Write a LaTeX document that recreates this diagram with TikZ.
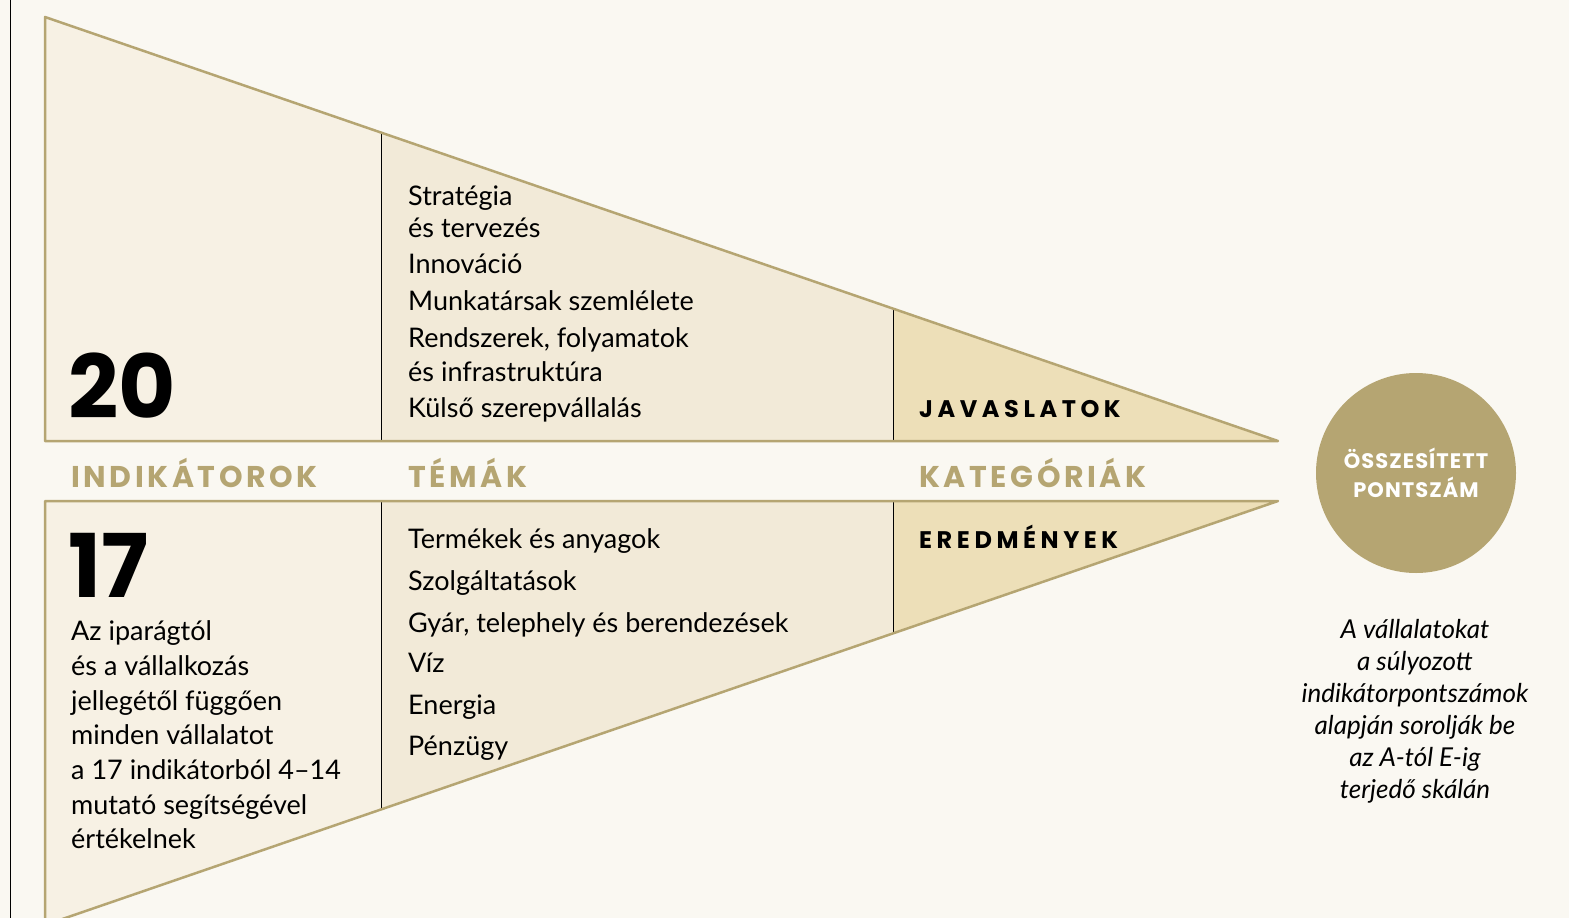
\documentclass[tikz,border=0pt]{standalone}
\usepackage{fontspec}
\setmainfont{Lato}
\newfontfamily\capsfont[LetterSpace=12]{Poppins}
\newfontfamily\widecapsfont[LetterSpace=19]{Poppins}
\newfontfamily\circlefont[LetterSpace=5]{Poppins}
\newfontfamily\numfont{Poppins}
\definecolor{bgcream}{HTML}{FAF8F2}
\definecolor{fillone}{HTML}{F7F1E4}
\definecolor{filltwo}{HTML}{F2EAD8}
\definecolor{fillthree}{HTML}{EDDFB8}
\definecolor{gold}{HTML}{B5A572}

\begin{document}
\begin{tikzpicture}[x=1pt,y=-1pt,
    body/.style={anchor=base west, inner sep=0pt, font=\fontsize{27}{27}\selectfont},
    bignum/.style={anchor=base west, inner sep=0pt, text height=62pt, text depth=0pt, font=\numfont\bfseries\fontsize{88}{88}\selectfont},
    goldcap/.style={anchor=base west, inner sep=0pt, text=gold, font=\capsfont\bfseries\fontsize{30}{30}\selectfont},
    blackcap/.style={anchor=base west, inner sep=0pt, font=\widecapsfont\bfseries\fontsize{24}{24}\selectfont},
    edge/.style={draw=gold, line width=2.5pt, line join=round},
    note/.style={align=center, inner sep=0pt, font=\itshape\fontsize{26}{32}\selectfont}]
    \fill[bgcream] (0,0) rectangle (1569,918);
    \useasboundingbox (0,0) rectangle (1569,918);
    \clip (0,0) rectangle (1569,918);
    \draw[line width=1pt] (10,0)--(10,918);

    % upper wedge
    \coordinate (tl) at (45,17);
    \coordinate (tip) at (1278,441);
    \coordinate (bl) at (45,441);
    \begin{scope}
        \clip (tl)--(tip)--(bl)--cycle;
        \fill[fillone] (45,0) rectangle (381,441);
        \fill[filltwo] (381,0) rectangle (893,441);
        \fill[fillthree] (893,0) rectangle (1278,441);
    \end{scope}
    \draw (381,132.5)--(381,441);
    \draw (893,308.6)--(893,441);
    \draw[edge] (bl)--(tl)--(tip)--cycle;

    % lower wedge
    \coordinate (btl) at (45,501);
    \coordinate (btip) at (1278,501);
    \coordinate (bbl) at (45,925);
    \begin{scope}
        \clip (btl)--(btip)--(bbl)--cycle;
        \fill[fillone] (45,501) rectangle (381,930);
        \fill[filltwo] (381,501) rectangle (893,930);
        \fill[fillthree] (893,501) rectangle (1278,930);
    \end{scope}
    \draw (381,501)--(381,809.5);
    \draw (893,501)--(893,633.4);
    \draw[edge] (bbl)--(btl)--(btip)--cycle;

    % numbers
    \node[bignum] (num20) at (68,418) {20};
    \node[bignum] (num17) at (68,597) {17};
    \node[body] (l1) at (71,640) {Az iparágtól};
    \node[body] (l2) at (71,675) {és a vállalkozás};
    \node[body] (l3) at (71,710) {jellegétől függően};
    \node[body] (l4) at (71,744) {minden vállalatot};
    \node[body] (l5) at (71,779) {a 17 indikátorból 4–14};
    \node[body] (l6) at (71,814) {mutató segítségével};
    \node[body] (l7) at (71,848) {értékelnek};

    % topics
    \node[body] (t1) at (408,205) {Stratégia};
    \node[body] (t2) at (408,237) {és tervezés};
    \node[body] (t3) at (408,273) {Innováció};
    \node[body] (t4) at (408,310) {Munkatársak szemlélete};
    \node[body] (t5) at (408,347) {Rendszerek, folyamatok};
    \node[body] (t6) at (408,381) {és infrastruktúra};
    \node[body] (t7) at (408,417) {Külső szerepvállalás};
    \node[body] (b1) at (408,548) {Termékek és anyagok};
    \node[body] (b2) at (408,590) {Szolgáltatások};
    \node[body] (b3) at (408,632) {Gyár, telephely és berendezések};
    \node[body] (b4) at (408,672) {Víz};
    \node[body] (b5) at (408,714) {Energia};
    \node[body] (b6) at (408,755) {Pénzügy};

    % headings
    \node[goldcap] (indik) at (71,487) {INDIKÁTOROK};
    \node[goldcap] (temak) at (408,487) {TÉMÁK};
    \node[goldcap] (kateg) at (919,487) {KATEGÓRIÁK};
    \node[blackcap] (javas) at (919,417) {JAVASLATOK};
    \node[blackcap] (eredm) at (919,548) {EREDMÉNYEK};

    % score
    \node[circle, fill=gold, minimum size=200pt, inner sep=0pt] (score) at (1416,473) {};
    \node[align=center, text=white, inner sep=0pt, font=\circlefont\bfseries\fontsize{21}{29}\selectfont] (scoretxt) at (score.center) {ÖSSZESÍTETT\\PONTSZÁM};
    \node[note] (rank) at (1415,711) {A vállalatokat\\a súlyozott\\indikátorpontszámok\\alapján sorolják be\\az A-tól E-ig\\terjedő skálán};
\end{tikzpicture}
\end{document}
